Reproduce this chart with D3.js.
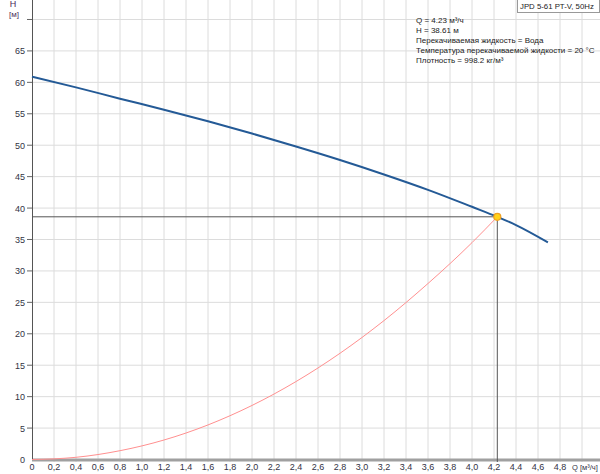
<!DOCTYPE html>
<html><head><meta charset="utf-8">
<script src="https://cdn.jsdelivr.net/npm/d3@7"></script>
<style>body{margin:0;background:#fff;}svg{display:block;font-family:"Liberation Sans",Arial,sans-serif;}</style>
</head><body>
<script>
const pumpQ = [0, 0.4, 0.8, 1.2, 1.6, 2.0, 2.4, 2.8, 3.2, 3.6, 4.0, 4.23, 4.4, 4.69];
const pumpH = [60.9, 59.2, 57.4, 55.65, 53.8, 51.85, 49.8, 47.65, 45.35, 42.9, 40.2, 38.61, 37.3, 34.55];
const sysQ = [0, 0.2, 0.4, 0.8, 1.2, 1.6, 2.0, 2.4, 2.8, 3.2, 3.6, 4.0, 4.23];
const sysH = [0, 0.1, 0.35, 1.4, 3.1, 5.5, 8.6, 12.4, 16.9, 22.1, 28.0, 34.5, 38.61];
const opQ = 4.23, opH = 38.61;
const xTicks = [0,0.2,0.4,0.6,0.8,1.0,1.2,1.4,1.6,1.8,2.0,2.2,2.4,2.6,2.8,3.0,3.2,3.4,3.6,3.8,4.0,4.2,4.4,4.6,4.8];
const xGrid = [0.2,0.4,0.6,0.8,1.0,1.2,1.4,1.6,1.8,2.0,2.2,2.4,2.6,2.8,3.0,3.2,3.4,3.6,3.8,4.0,4.2,4.4,4.6,4.8,5.0];
const yTicks = [0,5,10,15,20,25,30,35,40,45,50,55,60,65];
const yGrid = [5,10,15,20,25,30,35,40,45,50,55,60,65,70];
const infoLines = ["Q = 4.23 м³/ч","H = 38.61 м","Перекачиваемая жидкость = Вода","Температура перекачиваемой жидкости = 20 °C","Плотность = 998.2 кг/м³"];
const title = "JPD 5-61 PT-V, 50Hz";

const W = 600, H = 474;
const svg = d3.select("body").append("svg").attr("width", W).attr("height", H);
const x = d3.scaleLinear().domain([0, 5]).range([32, 582]);
const y = d3.scaleLinear().domain([0, 73.1]).range([459.5, 0]);
const txt = "#333344";

// grid
svg.append("g").selectAll("line").data(xGrid).join("line")
  .attr("x1", d => x(d)).attr("x2", d => x(d)).attr("y1", 0).attr("y2", 462)
  .attr("stroke", "#dcdcdc").attr("stroke-width", 1);
svg.append("g").selectAll("line").data(yGrid).join("line")
  .attr("x1", 32).attr("x2", 600).attr("y1", d => y(d)).attr("y2", d => y(d))
  .attr("stroke", "#dcdcdc").attr("stroke-width", 1);

// y ticks & labels
svg.append("g").selectAll("line").data(yGrid).join("line")
  .attr("x1", 27).attr("x2", 32).attr("y1", d => y(d)).attr("y2", d => y(d))
  .attr("stroke", "#666");
svg.append("g").selectAll("text").data(yTicks).join("text")
  .attr("x", 25).attr("y", d => y(d) + 3.5).attr("text-anchor", "end")
  .attr("font-size", 9).attr("fill", txt).text(d => d);

// x labels
svg.append("g").selectAll("text").data(xTicks).join("text")
  .attr("x", d => x(d)).attr("y", 470).attr("text-anchor", "middle")
  .attr("font-size", 9).attr("fill", txt).text(d => d3.format(d === 0 ? "d" : ".1f")(d).replace(".", ","));

// axes
svg.append("line").attr("x1", 32).attr("x2", 600).attr("y1", y(0)+0.5).attr("y2", y(0)+0.5)
  .attr("stroke", "#a0a0a0").attr("stroke-width", 3);
svg.append("line").attr("x1", 32.5).attr("x2", 32.5).attr("y1", 0).attr("y2", y(0))
  .attr("stroke", "#555").attr("stroke-width", 1);

// axis titles
svg.append("text").attr("x", 13).attr("y", 7).attr("text-anchor","middle").attr("font-size", 9).attr("fill", "#4a2a5a").text("H");
svg.append("text").attr("x", 14).attr("y", 17).attr("text-anchor","middle").attr("font-size", 8).attr("fill", "#4a2a5a").text("[м]");
svg.append("text").attr("x", 572).attr("y", 470).attr("font-size", 7.5).attr("fill", txt).text("Q [м³/ч]");

// operating lines
svg.append("line").attr("x1", 32).attr("x2", x(opQ)).attr("y1", y(opH)).attr("y2", y(opH))
  .attr("stroke", "#555").attr("stroke-width", 1);
svg.append("line").attr("x1", x(opQ)).attr("x2", x(opQ)).attr("y1", y(opH)).attr("y2", 462)
  .attr("stroke", "#555").attr("stroke-width", 1);

// curves
const line = d3.line().x(d => x(d[0])).y(d => y(d[1])).curve(d3.curveMonotoneX);
svg.append("path").datum(sysQ.map((q,i) => [q, sysH[i]])).attr("d", line)
  .attr("fill", "none").attr("stroke", "#ff9090").attr("stroke-width", 1);
svg.append("path").datum(pumpQ.map((q,i) => [q, pumpH[i]])).attr("d", line)
  .attr("fill", "none").attr("stroke", "#245a96").attr("stroke-width", 2);

// op point
svg.append("circle").attr("cx", x(opQ)).attr("cy", y(opH)).attr("r", 3.5)
  .attr("fill", "#ffd21a").attr("stroke", "#f0a020").attr("stroke-width", 1.2);

// info text
svg.append("g").selectAll("text").data(infoLines).join("text")
  .attr("x", 416).attr("y", (d,i) => 23 + i * 10).attr("font-size", 8).attr("fill", "#222").text(d => d);

// title box
svg.append("rect").attr("x", 517.5).attr("y", -1).attr("width", 82).attr("height", 13.5)
  .attr("fill", "#fff").attr("stroke", "#999");
svg.append("text").attr("x", 520).attr("y", 9).attr("font-size", 7.8).attr("fill", "#222").text(title);
</script>
</body></html>
